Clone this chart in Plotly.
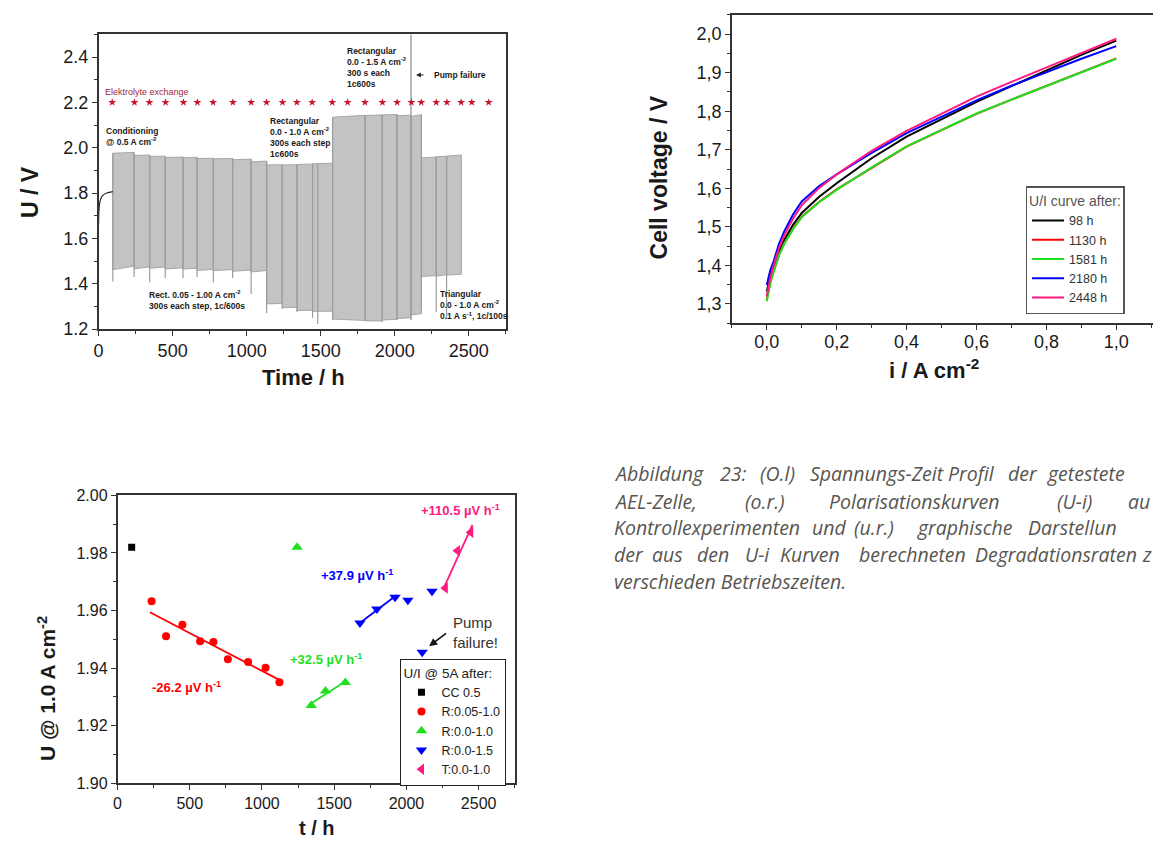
import numpy as np
import plotly.graph_objects as go

W, H = 1153, 849
FONT = "Liberation Sans, Arial, sans-serif"

# ---------------- top left: voltage-time profile ----------------
cond_t = [0, 1, 3, 7, 15, 29, 55, 96]
cond_u = [1.665, 1.70, 1.73, 1.755, 1.775, 1.79, 1.80, 1.806]

seg_t0 = [96, 240, 345, 450, 570, 665, 775, 905, 1030, 1135, 1240, 1340, 1445,
          1580, 1800, 1915, 2015, 2110, 2180, 2280, 2350]
seg_t1 = [240, 345, 450, 570, 665, 775, 905, 1030, 1135, 1240, 1340, 1445, 1580,
          1800, 1915, 2015, 2110, 2180, 2280, 2350, 2450]
top_start = [1.976, 1.966, 1.962, 1.957, 1.956, 1.952, 1.951, 1.947, 1.938, 1.924, 1.924, 1.926, 1.929,
             2.135, 2.142, 2.145, 2.141, 2.138, 1.955, 1.960, 1.963]
top_end = [1.979, 1.968, 1.963, 1.959, 1.958, 1.954, 1.953, 1.950, 1.941, 1.925, 1.925, 1.928, 1.932,
           2.143, 2.145, 2.147, 2.144, 2.146, 1.959, 1.963, 1.968]
bot_start = [1.462, 1.466, 1.468, 1.465, 1.465, 1.459, 1.458, 1.455, 1.452, 1.311, 1.294, 1.282, 1.278,
             1.244, 1.236, 1.240, 1.246, 1.262, 1.432, 1.433, 1.438]
bot_end = [1.478, 1.474, 1.474, 1.470, 1.468, 1.463, 1.462, 1.460, 1.458, 1.313, 1.296, 1.283, 1.279,
           1.238, 1.236, 1.243, 1.250, 1.268, 1.436, 1.440, 1.442]
spike_t = [96, 240, 345, 450, 570, 665, 775, 905, 1030, 1135, 1240, 1340, 1445, 1480,
           1580, 1800, 1915, 2015, 2180, 2280, 2350]
spike_low = [1.41, 1.43, 1.405, 1.425, 1.425, 1.43, 1.405, 1.425, 1.355, 1.27, 1.29, 1.275, 1.25, 1.222,
             1.24, 1.24, 1.23, 1.24, 1.285, 1.275, 1.245]
pump_t = 2110
pump_low = 1.24

exchange_t = [92, 242, 343, 452, 573, 667, 773, 907, 1030, 1134, 1242, 1339, 1442, 1578, 1682,
              1799, 1917, 2016, 2112, 2179, 2280, 2352, 2448, 2520, 2634]
exchange_u = [2.2] * len(exchange_t)

# ---------------- top right: polarisation curves ----------------
cur_i = [0, 0.005, 0.01, 0.02, 0.035, 0.05, 0.075, 0.1, 0.15, 0.2, 0.3, 0.4, 0.5, 0.6, 0.7, 0.8, 0.9, 1.0]
ui_labels = ["98 h", "1130 h", "1581 h", "2180 h", "2448 h"]
ui_colors = ["#000000", "#ff0000", "#1fe01f", "#0000ff", "#ff1a80"]
ui_98 = [1.332, 1.355, 1.372, 1.394, 1.436, 1.466, 1.505, 1.536, 1.578, 1.613, 1.678, 1.734, 1.780, 1.824, 1.865, 1.906, 1.946, 1.983]
ui_1130 = [1.311, 1.336, 1.356, 1.386, 1.428, 1.457, 1.495, 1.526, 1.565, 1.597, 1.653, 1.708, 1.751, 1.793, 1.830, 1.866, 1.902, 1.937]
ui_1581 = [1.307, 1.333, 1.354, 1.384, 1.426, 1.456, 1.494, 1.525, 1.564, 1.596, 1.654, 1.709, 1.752, 1.794, 1.830, 1.866, 1.901, 1.936]
ui_2180 = [1.349, 1.370, 1.387, 1.412, 1.456, 1.488, 1.532, 1.566, 1.606, 1.636, 1.692, 1.743, 1.786, 1.828, 1.866, 1.902, 1.936, 1.969]
ui_2448 = [1.320, 1.347, 1.368, 1.401, 1.445, 1.478, 1.521, 1.556, 1.601, 1.636, 1.697, 1.749, 1.794, 1.838, 1.876, 1.913, 1.951, 1.988]
ui_series = [ui_98, ui_1130, ui_1581, ui_2180, ui_2448]

# ---------------- bottom left: U @ 1 A cm-2 over time ----------------
cc_t = [98]
cc_u = [1.982]
r1_t = [236, 336, 449, 572, 664, 764, 904, 1025, 1121]
r1_u = [1.9632, 1.9511, 1.9551, 1.9493, 1.9491, 1.9431, 1.9421, 1.9401, 1.9351]
r2_t = [1243, 1341, 1440, 1577]
r2_u = [1.982, 1.927, 1.932, 1.935]
r3_t = [1678, 1795, 1921, 2010, 2109, 2177]
r3_u = [1.9557, 1.9605, 1.9646, 1.9636, 1.9455, 1.9667]
t4_t = [2269, 2353, 2445]
t4_u = [1.9678, 1.9808, 1.9872]

# degradation rates in µV/h and the points each fit covers
rate_r1, fit_r1 = -26.2, slice(0, 9)
rate_r2, fit_r2 = 32.5, slice(1, 4)
rate_r3, fit_r3 = 37.9, slice(0, 3)
rate_t4, fit_t4 = 110.5, slice(0, 3)


def px(x):
    return x / W


def py(y):
    return 1 - y / H


def rate_line(t, u, sel, rate, ext=12):
    tt = np.array(t[sel], float)
    uu = np.array(u[sel], float)
    slope = rate * 1e-6
    x = np.array([tt.min() - ext, tt.max() + ext])
    return x, uu.mean() + slope * (x - tt.mean())


fig = go.Figure()

# gray cycling band, one closed polygon per operating period
bx, by = [], []
for a, b, u0, u1, l0, l1 in zip(seg_t0, seg_t1, top_start, top_end, bot_start, bot_end):
    bx += [a, b, b, a, a, None]
    by += [u0, u1, l1, l0, u0, None]
fig.add_trace(go.Scatter(x=bx, y=by, mode="lines", fill="toself", fillcolor="#c3c3c3",
                         line=dict(color="#a6a6a6", width=1), showlegend=False,
                         xaxis="x", yaxis="y", hoverinfo="skip"))


def top_at(t):
    vals = [u0 + (u1 - u0) * (t - a) / (b - a)
            for a, b, u0, u1 in zip(seg_t0, seg_t1, top_start, top_end) if a <= t <= b]
    return max(vals)


# restart spikes at every interruption
sx, sy = [], []
for t, lo in zip(spike_t, spike_low):
    sx += [t, t, None]
    sy += [lo, top_at(t), None]
fig.add_trace(go.Scatter(x=sx, y=sy, mode="lines", line=dict(color="#9c9c9c", width=1.2),
                         showlegend=False, xaxis="x", yaxis="y", hoverinfo="skip"))
fig.add_trace(go.Scatter(x=[pump_t, pump_t], y=[pump_low, 2.5], mode="lines",
                         line=dict(color="#9c9c9c", width=1.4), showlegend=False,
                         xaxis="x", yaxis="y", hoverinfo="skip"))
fig.add_trace(go.Scatter(x=cond_t, y=cond_u, mode="lines", line=dict(color="#222", width=1.2, shape="spline"),
                         showlegend=False, xaxis="x", yaxis="y"))
fig.add_trace(go.Scatter(x=exchange_t, y=exchange_u, mode="markers",
                         marker=dict(symbol="star", size=6, color="#c8142e", line=dict(width=0)),
                         showlegend=False, xaxis="x", yaxis="y"))

# polarisation curves
for lab, col, vals in zip(ui_labels, ui_colors, ui_series):
    fig.add_trace(go.Scatter(x=cur_i, y=vals, mode="lines", name=lab,
                             line=dict(color=col, width=2),
                             xaxis="x2", yaxis="y2", legend="legend"))

# degradation rate fits
for t, u, sel, rate, col in [(r1_t, r1_u, fit_r1, rate_r1, "#ff0000"),
                             (r2_t, r2_u, fit_r2, rate_r2, "#1fe01f"),
                             (r3_t, r3_u, fit_r3, rate_r3, "#0000ff"),
                             (t4_t, t4_u, fit_t4, rate_t4, "#ff1a80")]:
    lx, ly = rate_line(t, u, sel, rate)
    fig.add_trace(go.Scatter(x=lx, y=ly, mode="lines", line=dict(color=col, width=1.8),
                             showlegend=False, xaxis="x3", yaxis="y3"))

for name, t, u, sym, size, col in [("CC 0.5", cc_t, cc_u, "square", 7, "#000000"),
                                   ("R:0.05-1.0", r1_t, r1_u, "circle", 8, "#ff0000"),
                                   ("R:0.0-1.0", r2_t, r2_u, "triangle-up", 10, "#1fe01f"),
                                   ("R:0.0-1.5", r3_t, r3_u, "triangle-down", 10, "#0000ff"),
                                   ("T:0.0-1.0", t4_t, t4_u, "triangle-left", 10, "#ff1a80")]:
    fig.add_trace(go.Scatter(x=t, y=u, mode="markers", name=name,
                             marker=dict(symbol=sym, size=size, color=col, line=dict(width=0)),
                             xaxis="x3", yaxis="y3", legend="legend2"))

axis_common = dict(showline=True, linecolor="#333", linewidth=1.5, ticks="outside", ticklen=5,
                   tickwidth=1.2, tickcolor="#333", showgrid=False, zeroline=False,
                   tickfont=dict(family=FONT, size=18, color="#1a1a1a"))

dec_ticks = [0, 0.2, 0.4, 0.6, 0.8, 1.0]
volt_ticks = [1.3, 1.4, 1.5, 1.6, 1.7, 1.8, 1.9, 2.0]

fig.update_layout(
    width=W, height=H, margin=dict(l=0, r=0, t=0, b=0),
    paper_bgcolor="white", plot_bgcolor="white", showlegend=True,
    xaxis=dict(axis_common, domain=[px(94), px(503)], range=[0, 2750], dtick=500, tick0=0,
               mirror=True, minor=dict(dtick=250, ticks="outside", ticklen=3, tickcolor="#333"),
               anchor="y"),
    yaxis=dict(axis_common, domain=[py(328), py(27)], range=[1.2, 2.5], dtick=0.2, tick0=1.2,
               tickformat=".1f", mirror=True,
               minor=dict(dtick=0.1, ticks="outside", ticklen=3, tickcolor="#333"), anchor="x"),
    xaxis2=dict(axis_common, domain=[px(730), 1.0], range=[-0.1, 1.105], tickvals=dec_ticks,
                ticktext=[f"{v:.1f}".replace(".", ",") for v in dec_ticks], mirror=True,
                ticklabelstandoff=-4,
                minor=dict(dtick=0.1, ticks="outside", ticklen=3, tickcolor="#333"), anchor="y2"),
    yaxis2=dict(axis_common, domain=[py(322), py(7)], range=[1.25, 2.05], tickvals=volt_ticks,
                ticktext=[f"{v:.1f}".replace(".", ",") for v in volt_ticks], mirror=False,
                minor=dict(dtick=0.05, tick0=1.25, ticks="outside", ticklen=3, tickcolor="#333"),
                anchor="x2"),
    xaxis3=dict(axis_common, domain=[px(113), px(512)], range=[0, 2750], dtick=500, tick0=0,
                mirror=True, tickfont=dict(family=FONT, size=16, color="#1a1a1a"),
                minor=dict(dtick=250, ticks="outside", ticklen=3, tickcolor="#333"), anchor="y3"),
    yaxis3=dict(axis_common, domain=[py(792), py(498)], range=[1.90, 2.00], dtick=0.02, tick0=1.90,
                tickformat=".2f", mirror=True, tickfont=dict(family=FONT, size=16, color="#1a1a1a"),
                minor=dict(dtick=0.01, ticks="outside", ticklen=3, tickcolor="#333"), anchor="x3"),
    legend=dict(x=px(1025), y=py(182), xanchor="left", yanchor="top",
                bordercolor="#555", borderwidth=1.5, bgcolor="white",
                title=dict(text="U/I curve after:", font=dict(family=FONT, size=14, color="#555")),
                font=dict(family=FONT, size=12.5, color="#333"), itemwidth=32, tracegroupgap=0),
    legend2=dict(x=px(397), y=py(665), xanchor="left", yanchor="top",
                 bordercolor="#222", borderwidth=1.2, bgcolor="white",
                 title=dict(text="U/I @ 5A after:", font=dict(family=FONT, size=13.5, color="#222")),
                 font=dict(family=FONT, size=12.5, color="#222"), itemwidth=30, tracegroupgap=0),
)

ann = []


def label(text, x, y, size, color="#1a1a1a", bold=True, angle=0, xanchor="center", ref=("paper", "paper")):
    t = f"<b>{text}</b>" if bold else text
    ann.append(dict(text=t, x=x, y=y, xref=ref[0], yref=ref[1], showarrow=False, textangle=angle,
                    xanchor=xanchor, yanchor="middle", align="left",
                    font=dict(family=FONT, size=size, color=color)))


# axis titles
label("U / V", px(25), py(188), 23, angle=-90)
label("Time / h", px(300), py(377), 22)
label("Cell voltage / V", px(657), py(173), 23, angle=-90)
label("i / A cm<sup>-2</sup>", px(933), py(369), 22)
label("U @ 1.0 A cm<sup>-2</sup>", px(42), py(695), 21, angle=-90)
label("t / h", px(313), py(838), 20)

# operating-mode notes in the voltage-time profile
xy = ("x", "y")
label("Elektrolyte exchange", 27, 2.248, 9, color="#a3283a", bold=False, xanchor="left", ref=xy)
label("Conditioning<br>@ 0.5 A cm<sup>-2</sup>", 34, 2.05, 8.5, xanchor="left", ref=xy)
label("Rectangular<br>0.0 - 1.0 A cm<sup>-2</sup><br>300s each step<br>1c600s", 1142, 2.046, 8.5,
      xanchor="left", ref=xy)
label("Rect. 0.05 - 1.00 A cm<sup>-2</sup><br>300s each step, 1c/600s", 330, 1.33, 8.5,
      xanchor="left", ref=xy)
label("Rectangular<br>0.0 - 1.5 A cm<sup>-2</sup><br>300 s each<br>1c600s", 1667, 2.356, 8.5,
      xanchor="left", ref=xy)
label("Triangular<br>0.0 - 1.0 A cm<sup>-2</sup><br>0.1 A s<sup>-1</sup>, 1c/100s", 2290, 1.304, 8.5,
      xanchor="left", ref=xy)
label("Pump failure", 2250, 2.321, 8.5, xanchor="left", ref=xy)
ann.append(dict(x=2144, y=2.321, xref="x", yref="y", ax=9, ay=0, text="", showarrow=True,
                arrowhead=2, arrowsize=0.8, arrowwidth=1.2, arrowcolor="#222"))

# degradation rates
xy3 = ("x3", "y3")
label(f"{rate_r1:.1f} µV h<sup>-1</sup>", 480, 1.9335, 13, color="#ff0000", ref=xy3)
label(f"{rate_r2:+.1f} µV h<sup>-1</sup>", 1443, 1.9430, 13, color="#1fe01f", ref=xy3)
label(f"{rate_r3:+.1f} µV h<sup>-1</sup>", 1655, 1.9725, 13, color="#0000ff", ref=xy3)
label(f"{rate_t4:+.1f} µV h<sup>-1</sup>", 2375, 1.9950, 13, color="#ff1a80", ref=xy3)
label("Pump<br>failure!", 2480, 1.9525, 15, color="#333", bold=False, ref=xy3)
ann.append(dict(x=2157, y=1.9476, xref="x3", yref="y3", ax=2285, ay=1.9525, axref="x3", ayref="y3",
                text="", showarrow=True, arrowhead=2, arrowsize=1, arrowwidth=1.6, arrowcolor="#111"))

# caption (justified column, cut at the page edge)
CAP = dict(family="Open Sans, Lato, sans-serif", size=19.5, color="#58554f")
caption_lines = [
    (476, [(610, "Abbildung"), (716, "23:"), (756, "(O.l)"), (806, "Spannungs-Zeit"), (945, "Profil"),
           (1005, "der"), (1045, "getestete")]),
    (504, [(610, "AEL-Zelle,"), (741, "(o.r.)"), (826, "Polarisationskurven"), (1055, "(U-i)"), (1126, "au")]),
    (531, [(610, "Kontrollexperimenten"), (809, "und"), (851, "(u.r.)"), (914, "graphische"),
           (1025, "Darstellun")]),
    (558, [(610, "der"), (648, "aus"), (693, "den"), (741, "U-i"), (776, "Kurven"), (856, "berechneten"),
           (972, "Degradationsraten"), (1140, "z")]),
    (586, [(610, "verschieden Betriebszeiten.")]),
]
for yy, words in caption_lines:
    for xx, w in words:
        ann.append(dict(text=f"<i>{w}</i>", x=px(xx), y=py(yy), xref="paper", yref="paper",
                        showarrow=False, xanchor="left", yanchor="middle", font=CAP))

fig.update_layout(annotations=ann)
fig.write_html("out.html")
